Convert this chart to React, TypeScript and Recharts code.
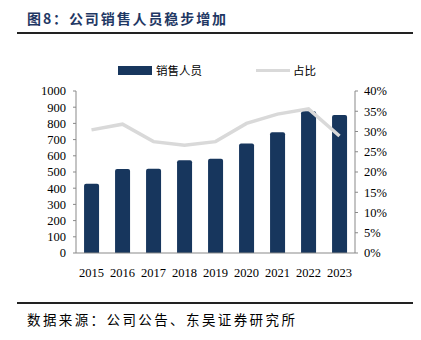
import React from "react"
import { ComposedChart, Bar, Line, XAxis, YAxis } from "recharts"

const years = ["2015", "2016", "2017", "2018", "2019", "2020", "2021", "2022", "2023"]
const salesStaff = [428, 518, 520, 573, 582, 676, 746, 875, 852]
const share = [30.4, 31.8, 27.5, 26.6, 27.5, 32.0, 34.3, 35.6, 28.9]
const leftTicks = [0, 100, 200, 300, 400, 500, 600, 700, 800, 900, 1000]
const rightTicks = [0, 5, 10, 15, 20, 25, 30, 35, 40]

const data = years.map((y, i) => ({ year: y, staff: salesStaff[i], share: share[i] }))

const BAR = "#17365d"
const LINE = "#d9d9d9"
const AXIS = "#898989"
const serif = "'Liberation Serif', 'Times New Roman', serif"
const cjk = "'Noto Sans CJK SC', sans-serif"

export default function App() {
  const tick = { fill: "#000", fontSize: 12.5, fontFamily: serif }
  return (
    <div style={{ position: "relative", width: 421, height: 340, margin: -8, background: "#fff", overflow: "hidden" }}>
      <div
        style={{
          position: "absolute", left: 27, top: 8, fontFamily: cjk, fontWeight: 700,
          fontSize: 14, color: "#1f3864", letterSpacing: 1.9,
        }}
      >
        图8：公司销售人员稳步增加
      </div>
      <div style={{ position: "absolute", left: 17, top: 32, width: 402, height: 2, background: "#222" }} />

      {/* legend */}
      <div style={{ position: "absolute", left: 118, top: 66, width: 34, height: 9, background: BAR }} />
      <div style={{ position: "absolute", left: 156, top: 62, fontFamily: cjk, fontSize: 11.5, color: "#000" }}>销售人员</div>
      <div style={{ position: "absolute", left: 256, top: 69, width: 34, height: 3, background: LINE }} />
      <div style={{ position: "absolute", left: 293, top: 62, fontFamily: cjk, fontSize: 11.5, color: "#000" }}>占比</div>

      <div style={{ position: "absolute", left: 0, top: 0 }}>
        <ComposedChart
          width={421}
          height={340}
          data={data}
          margin={{ top: 91, right: 26, left: 36, bottom: 57 }}
          barCategoryGap="26%"
        >
          <XAxis
            dataKey="year"
            tick={tick}
            tickLine={false}
            axisLine={{ stroke: AXIS }}
            tickMargin={9}
            height={30}
            interval={0}
          />
          <YAxis
            yAxisId="left"
            domain={[0, 1000]}
            ticks={leftTicks}
            tick={tick}
            tickSize={3}
            tickLine={{ stroke: AXIS }}
            axisLine={{ stroke: AXIS }}
            tickMargin={7}
            width={40}
            interval={0}
          />
          <YAxis
            yAxisId="right"
            orientation="right"
            domain={[0, 40]}
            ticks={rightTicks}
            tickFormatter={(v: number) => `${v}%`}
            tick={{ ...tick, textAnchor: "start" }}
            tickSize={3}
            tickLine={{ stroke: AXIS }}
            axisLine={{ stroke: AXIS }}
            tickMargin={6}
            width={40}
            interval={0}
          />
          <Bar yAxisId="left" dataKey="staff" fill={BAR} radius={[2, 2, 0, 0]} isAnimationActive={false} />
          <Line
            yAxisId="right"
            dataKey="share"
            type="linear"
            stroke={LINE}
            strokeWidth={3.5}
            dot={false}
            activeDot={false}
            isAnimationActive={false}
          />
        </ComposedChart>
      </div>

      <div style={{ position: "absolute", left: 17, top: 302, width: 402, height: 1.5, background: "#222" }} />
      <div style={{ position: "absolute", left: 27, top: 309, fontFamily: cjk, fontSize: 13.5, color: "#000", letterSpacing: 2.4 }}>
        数据来源：公司公告、东吴证券研究所
      </div>
    </div>
  )
}
